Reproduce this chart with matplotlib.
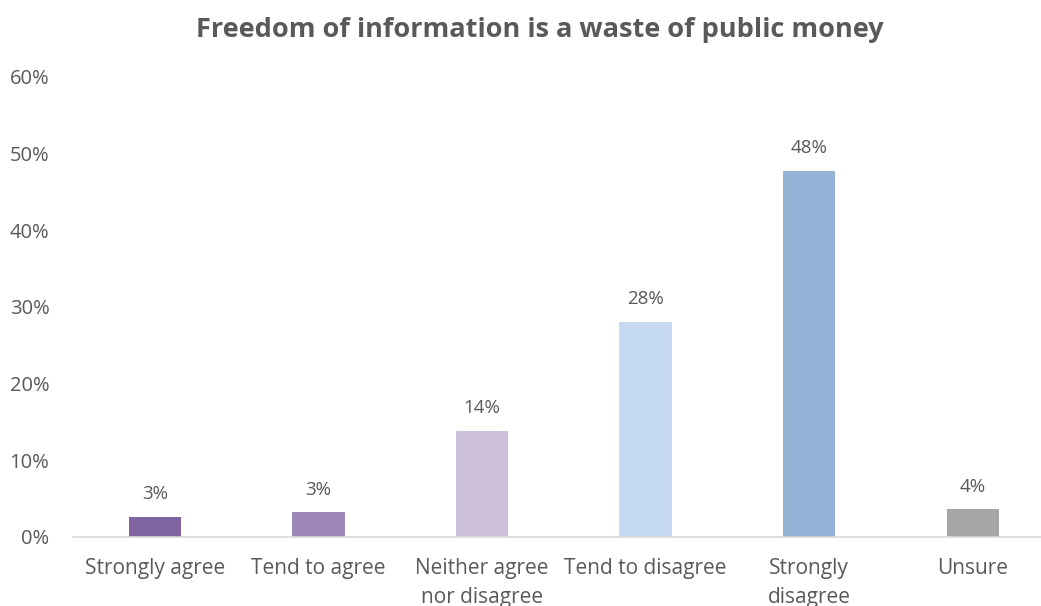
import matplotlib.pyplot as plt
from matplotlib.ticker import PercentFormatter

categories = [
    "Strongly agree",
    "Tend to agree",
    "Neither agree\nnor disagree",
    "Tend to disagree",
    "Strongly\ndisagree",
    "Unsure",
]
shares = [2.6, 3.2, 13.8, 28.1, 47.8, 3.6]
bar_colors = ["#8064A2", "#9F88B8", "#CCC0DA", "#C5D9F1", "#95B3D7", "#A6A6A6"]
y_ticks = [0, 10, 20, 30, 40, 50, 60]

text_color = "#595959"
plt.rcParams["font.family"] = ["Open Sans", "DejaVu Sans"]

fig = plt.figure(figsize=(10.41, 6.06), dpi=100)
ax = fig.add_axes([73 / 1041, 69 / 606, 981.6 / 1041, 460 / 606])

x = range(len(categories))
bars = ax.bar(x, shares, width=0.32, color=bar_colors)

for rect, val in zip(bars, shares):
    ax.annotate(
        f"{val:.0f}%",
        (rect.get_x() + rect.get_width() / 2, rect.get_height()),
        xytext=(0, 10),
        textcoords="offset points",
        ha="center",
        va="bottom",
        fontsize=13.5,
        color=text_color,
    )

ax.set_xlim(-0.5, len(categories) - 0.5)
ax.set_ylim(0, 60)
ax.set_yticks(y_ticks)
ax.yaxis.set_major_formatter(PercentFormatter(decimals=0))
ax.set_xticks(list(x))
ax.set_xticklabels(categories, fontsize=15, color=text_color, linespacing=1.5)
ax.tick_params(axis="y", length=0, pad=17, labelsize=14.5, labelcolor=text_color)
ax.tick_params(axis="x", length=0, pad=15)

for side in ["left", "right", "top"]:
    ax.spines[side].set_visible(False)
ax.spines["bottom"].set_color("#D9D9D9")
ax.spines["bottom"].set_linewidth(1.2)

fig.text(
    540 / 1041,
    1 - 30 / 606,
    "Freedom of information is a waste of public money",
    ha="center",
    va="center",
    fontsize=19.5,
    fontweight="bold",
    color=text_color,
)

fig.savefig("out.png", dpi=100)
